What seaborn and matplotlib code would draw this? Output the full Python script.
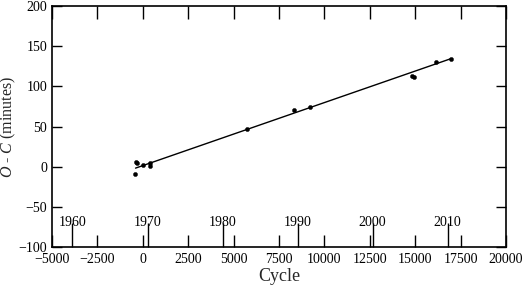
import numpy as np
import pandas as pd
import matplotlib
matplotlib.use("Agg")
import matplotlib.pyplot as plt
import seaborn as sns

# observed O-C timings
cycle = [-440, -369, -292, 17, 385, 424, 5765, 8315, 9234, 14830, 14923, 16134, 16960]
oc_min = [-8.7, 5.9, 4.2, 1.7, 5.0, 0.9, 47.0, 70.2, 74.7, 113.0, 112.0, 130.8, 134.5]

# linear ephemeris fit (end points)
fit_cycle = [-400, 16960]
fit_oc = [-1.8, 134.4]

# calendar years on the cycle axis
year_ticks = [1960, 1970, 1980, 1990, 2000, 2010]
year0, cycle0, cycles_per_year = 1970, 260.0, 413.3


def cyc_to_year(c):
    return year0 + (np.asarray(c) - cycle0) / cycles_per_year


def year_to_cyc(y):
    return cycle0 + (np.asarray(y) - year0) * cycles_per_year


sns.set_theme(style="ticks")
plt.rcParams["font.family"] = ["Liberation Serif", "DejaVu Serif"]
plt.rcParams["mathtext.fontset"] = "custom"
plt.rcParams["mathtext.it"] = "Liberation Serif:italic"
plt.rcParams["mathtext.rm"] = "Liberation Serif"

df = pd.DataFrame({"cycle": cycle, "oc": oc_min})
fit = pd.DataFrame({"cycle": fit_cycle, "oc": fit_oc})

fig = plt.figure(figsize=(5.23, 2.89), dpi=100)
ax = fig.add_axes([0.0994, 0.1453, 0.8681, 0.8339])

sns.lineplot(data=fit, x="cycle", y="oc", color="black", linewidth=1.0, ax=ax)
sns.scatterplot(data=df, x="cycle", y="oc", color="black", s=9,
                edgecolor="black", linewidth=0.3, ax=ax, zorder=3)

ax.set_xlim(-5000, 20000)
ax.set_ylim(-100, 200)
ax.set_xticks(np.arange(-5000, 20001, 2500))
ax.set_yticks(np.arange(-100, 201, 50))
ax.tick_params(axis="x", direction="in", length=9, width=1, top=True,
               labelsize=10, pad=4, colors="black")
ax.tick_params(axis="y", direction="in", length=7, width=1, right=True,
               labelsize=10, pad=3.5, colors="black")
for s in ax.spines.values():
    s.set_linewidth(1.2)
    s.set_color("black")

ax.set_xlabel("Cycle", fontsize=13, labelpad=2)
ax.set_ylabel(r"$O$ - $C$ (minutes)", fontsize=11.5)
ax.yaxis.set_label_coords(-0.075, 0.5)

sec = ax.secondary_xaxis("bottom", functions=(cyc_to_year, year_to_cyc))
sec.set_xticks(year_ticks)
sec.tick_params(direction="in", length=17, width=1, labelsize=10,
                pad=-22, colors="black")
sec.spines["bottom"].set_visible(False)

fig.savefig("out.png", dpi=100)
plt.close(fig)
